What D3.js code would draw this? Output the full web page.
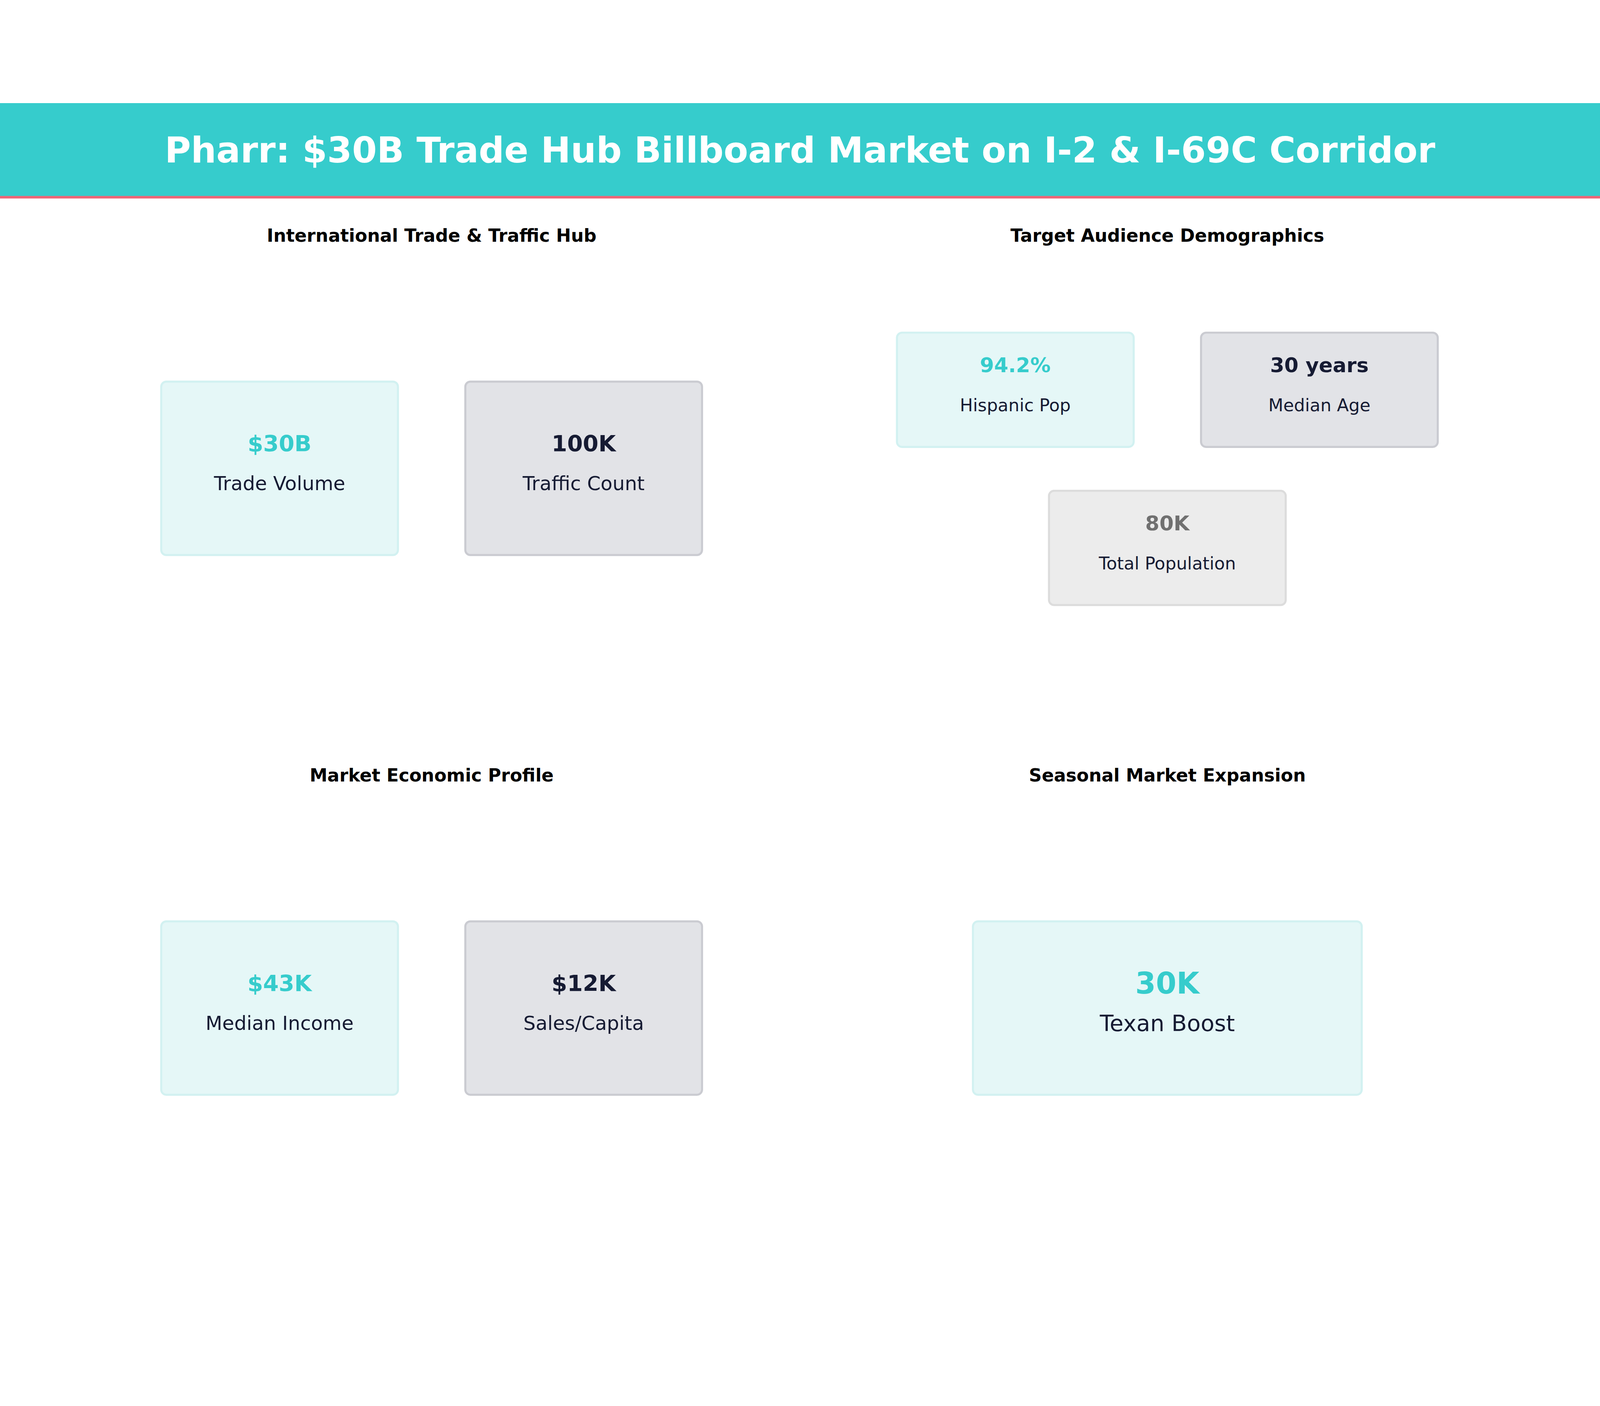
<!DOCTYPE html>
<html>
<head>
<meta charset="utf-8">
<script src="https://cdn.jsdelivr.net/npm/d3@7"></script>
<style>
  html, body { margin: 0; padding: 0; background: #fff; width: 100vw; height: 100vh; overflow: hidden; }
  #chart, svg { display: block; width: 100vw; height: 100vh; }
  text { font-family: "DejaVu Sans", sans-serif; }
</style>
</head>
<body>
<div id="chart"></div>
<script>
// chart data
const title = "Pharr: $30B Trade Hub Billboard Market on I-2 & I-69C Corridor";
const panelTitles = ["International Trade & Traffic Hub", "Target Audience Demographics", "Market Economic Profile", "Seasonal Market Expansion"];
const tradeValues = ["$30B", "100K"];
const tradeLabels = ["Trade Volume", "Traffic Count"];
const demoValues = ["94.2%", "30 years", "80K"];
const demoLabels = ["Hispanic Pop", "Median Age", "Total Population"];
const econValues = ["$43K", "$12K"];
const econLabels = ["Median Income", "Sales/Capita"];
const seasonValues = ["30K"];
const seasonLabels = ["Texan Boost"];

// layout constants (drawn in a 1568x1176 viewBox, scaled to fill the window)
const W = 1568, H = 1176;
const styles = {
  teal: { fill: "#e5f7f7", stroke: "#d2f1f1", value: "#36cccc" },
  navy: { fill: "#e2e3e7", stroke: "#cacbd1", value: "#161b33" },
  grey: { fill: "#ececec", stroke: "#dcdcdc", value: "#707070" }
};

const svg = d3.select("#chart").append("svg")
  .attr("viewBox", `0 0 ${W} ${H}`)
  .attr("preserveAspectRatio", "xMidYMid meet");

// header band
svg.append("rect").attr("width", W).attr("height", 93).attr("fill", "#36cccc");
svg.append("rect").attr("y", 91).attr("width", W).attr("height", 2.5).attr("fill", "#ee6677");
svg.append("text")
  .attr("x", W / 2).attr("y", 46)
  .attr("text-anchor", "middle").attr("dominant-baseline", "central")
  .attr("font-size", 35).attr("font-weight", "bold").attr("fill", "#fff")
  .text(title);

// panel grid
const colX = d3.scalePoint().domain([0, 1]).range([423, 1144]);
const rowY = d3.scalePoint().domain([0, 1]).range([130, 659]);

panelTitles.forEach((t, i) => {
  svg.append("text")
    .attr("x", colX(i % 2)).attr("y", rowY(Math.floor(i / 2)))
    .attr("text-anchor", "middle").attr("dominant-baseline", "central")
    .attr("font-size", 17.5).attr("font-weight", "bold").attr("fill", "#000")
    .text(t);
});

// card drawing helper
function card(cx, top, w, h, value, label, st, vSize, lSize, vDy, lDy) {
  const g = svg.append("g");
  g.append("rect")
    .attr("x", cx - w / 2).attr("y", top).attr("width", w).attr("height", h)
    .attr("rx", 5).attr("fill", st.fill).attr("stroke", st.stroke).attr("stroke-width", 2);
  g.append("text")
    .attr("x", cx).attr("y", top + vDy)
    .attr("text-anchor", "middle").attr("dominant-baseline", "central")
    .attr("font-size", vSize).attr("font-weight", "bold").attr("fill", st.value)
    .text(value);
  g.append("text")
    .attr("x", cx).attr("y", top + lDy)
    .attr("text-anchor", "middle").attr("dominant-baseline", "central")
    .attr("font-size", lSize).attr("fill", "#161b33")
    .text(label);
}

// two-card panels
const pairX = d3.scalePoint().domain([0, 1]).range([274, 572]);
const pairStyles = [styles.teal, styles.navy];
tradeValues.forEach((v, i) => card(pairX(i), 273, 232, 170, v, tradeLabels[i], pairStyles[i], 22, 19, 61, 100));
econValues.forEach((v, i) => card(pairX(i), 802, 232, 170, v, econLabels[i], pairStyles[i], 22, 19, 61, 100));

// demographics panel
const demoX = d3.scalePoint().domain([0, 1]).range([995, 1293]);
const demoPos = [[demoX(0), 225], [demoX(1), 225], [colX(1), 380]];
const demoStyles = [styles.teal, styles.navy, styles.grey];
demoValues.forEach((v, i) => card(demoPos[i][0], demoPos[i][1], 232, 112, v, demoLabels[i], demoStyles[i], 20, 17, 32, 71));

// seasonal panel
seasonValues.forEach((v, i) => card(colX(1), 802, 381, 170, v, seasonLabels[i], styles.teal, 29, 22, 61, 100));
</script>
</body>
</html>
